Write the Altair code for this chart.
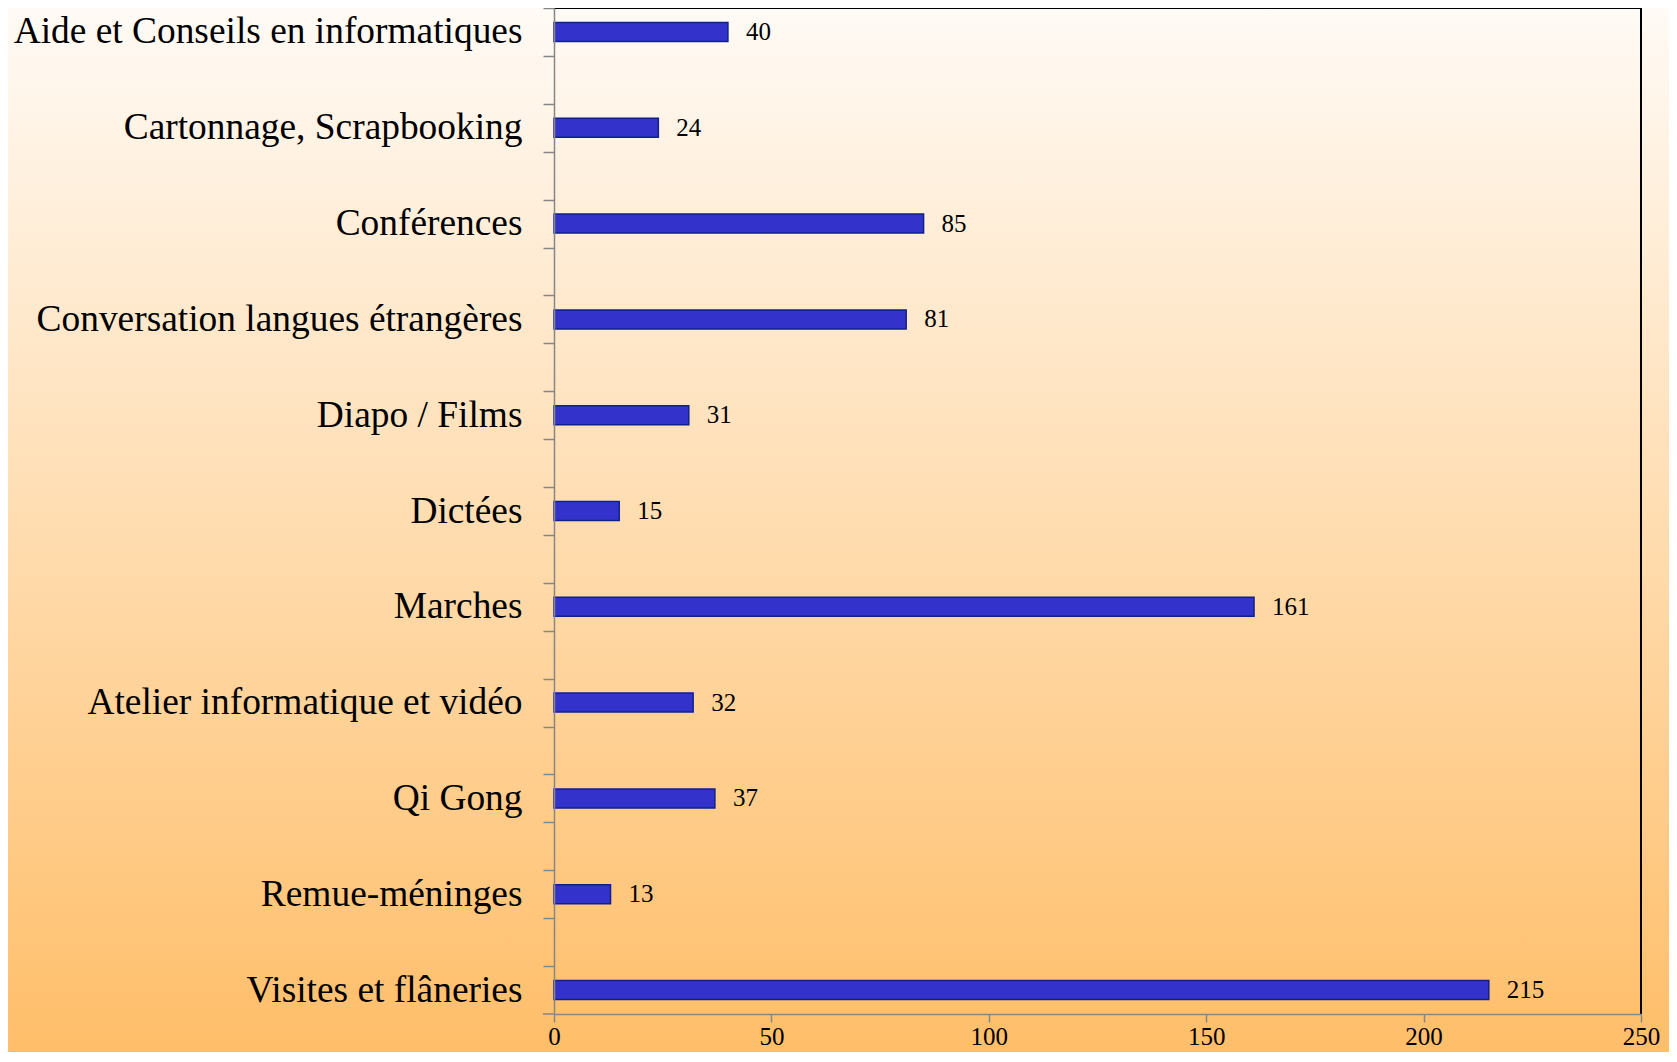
import altair as alt
import pandas as pd

categories = [
    "Aide et Conseils en informatiques",
    "Cartonnage, Scrapbooking",
    "Conférences",
    "Conversation langues étrangères",
    "Diapo / Films",
    "Dictées",
    "Marches",
    "Atelier informatique et vidéo",
    "Qi Gong",
    "Remue-méninges",
    "Visites et flâneries",
]
values = [40, 24, 85, 81, 31, 15, 161, 32, 37, 13, 215]
x_ticks = [0, 50, 100, 150, 200, 250]

df = pd.DataFrame({"cat": categories, "val": values})

# each category is followed by an empty (blank-labelled) slot, as in the original
domain = []
for i, c in enumerate(categories):
    domain.append(c)
    if i < len(categories) - 1:
        domain.append(" " * (i + 1))

W, H = 1087, 1006
PL, PT, PR, PB = 546, 0, 28, 38
FONT = "Liberation Serif"
GRAY = "#868686"
HALF = H / len(domain) / 2

x_enc = alt.X(
    "val:Q",
    scale=alt.Scale(domain=[0, 250], nice=False),
    axis=alt.Axis(
        values=x_ticks, tickSize=8, tickColor=GRAY, domainColor=GRAY,
        domainWidth=1.5, tickWidth=1.5,
        labelFont=FONT, labelFontSize=25, labelColor="black",
        labelPadding=2, grid=False, zindex=1, labelFlush=False,
    ),
    title=None,
)
y_enc = alt.Y(
    "cat:N",
    scale=alt.Scale(domain=domain, paddingInner=0, paddingOuter=0),
    axis=alt.Axis(
        tickSize=11, tickColor=GRAY, domainColor=GRAY,
        domainWidth=1.5, tickWidth=1.5,
        tickOffset=-HALF, labelOffset=HALF,
        labelFont=FONT, labelFontSize=37.4, labelColor="black",
        labelPadding=21, labelLimit=0, grid=False, zindex=1,
    ),
    title=None,
)

bg = alt.Chart(pd.DataFrame({"a": [0]})).mark_rect(
    fill=alt.Gradient(
        gradient="linear",
        stops=[alt.GradientStop(color="#FFFBF7", offset=0),
               alt.GradientStop(color="#FFBE69", offset=1)],
        x1=0, x2=0, y1=0, y2=1,
    )
).encode(
    x=alt.value(-PL), x2=alt.value(W + PR), y=alt.value(-PT - 8), y2=alt.value(H + PB)
)

bars = alt.Chart(df).mark_bar(
    size=19, fill="#3333CC", stroke="#10208A", strokeWidth=1.5
).encode(x=x_enc, y=y_enc)

labels = alt.Chart(df).mark_text(
    align="left", baseline="middle", dx=18, font=FONT, fontSize=25, color="black"
).encode(x="val:Q", y="cat:N", text="val:Q")

one = pd.DataFrame({"a": [0]})
top_border = alt.Chart(one).mark_rule(color="black", strokeWidth=2).encode(
    x=alt.value(0), x2=alt.value(W), y=alt.value(0))
right_border = alt.Chart(one).mark_rule(color="black", strokeWidth=2).encode(
    x=alt.value(W), y=alt.value(0), y2=alt.value(H))
bottom_tick = alt.Chart(one).mark_rule(color=GRAY, strokeWidth=1.5).encode(
    x=alt.value(-11), x2=alt.value(0), y=alt.value(H))

chart = alt.layer(bg, bars, labels, top_border, right_border, bottom_tick).properties(
    width=W, height=H,
    autosize=alt.AutoSizeParams(type="none"),
    padding={"left": PL, "top": PT, "right": PR, "bottom": PB},
).configure_view(stroke=None)

chart.save("out.html", embed_options={"renderer": "svg", "actions": False})
